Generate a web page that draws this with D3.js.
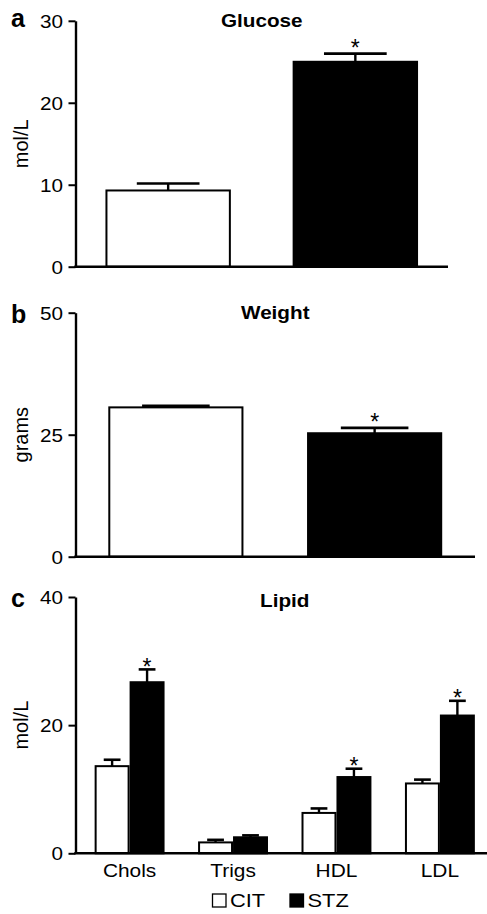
<!DOCTYPE html>
<html>
<head>
<meta charset="utf-8">
<script src="https://cdn.jsdelivr.net/npm/d3@7"></script>
<style>
  html, body { margin: 0; padding: 0; background: #fff; }
  svg { display: block; }
  text { font-family: "Liberation Sans", Arial, Helvetica, sans-serif; fill: #000; }
</style>
</head>
<body>
<svg id="chart" width="487" height="914"></svg>
<script>
// ---------------- DATA ----------------
const groups = ["CIT", "STZ"];

const glucoseMean = [9.3, 25.0];
const glucoseSem = [0.85, 1.0];
const glucoseSig = [false, true];
const glucoseTicks = [0, 10, 20, 30];

const weightMean = [30.6, 25.3];
const weightSem = [0.3, 1.1];
const weightSig = [false, true];
const weightTicks = [0, 25, 50];

const lipidCategories = ["Chols", "Trigs", "HDL", "LDL"];
const lipidCitMean = [13.6, 1.7, 6.3, 10.9];
const lipidCitSem = [1.0, 0.4, 0.7, 0.6];
const lipidStzMean = [26.7, 2.5, 11.9, 21.5];
const lipidStzSem = [2.0, 0.3, 1.3, 2.3];
const lipidCitSig = [false, false, false, false];
const lipidStzSig = [true, false, true, true];
const lipidTicks = [0, 20, 40];

const fills = ["#ffffff", "#000000"];

// ---------------- HELPERS ----------------
const svg = d3.select("#chart");
const SX = 1.15; // horizontal stretch of the reference's lettering

function sText(parent, x, y, str, size, weight, anchor, sx) {
  return parent.append("text")
    .attr("transform", `translate(${x},${y}) scale(${sx || SX},1)`)
    .attr("text-anchor", anchor || "middle")
    .attr("font-size", size)
    .attr("font-weight", weight || "normal")
    .text(str);
}

function yAxis(g, y, x0, ticks) {
  const ax = g.append("g").attr("transform", `translate(${x0},0)`)
    .call(d3.axisLeft(y).tickValues(ticks).tickSize(7).tickSizeOuter(0).tickFormat(d3.format("d")));
  ax.select(".domain").attr("stroke", "#000").attr("stroke-width", 2.4);
  ax.selectAll(".tick line").attr("stroke", "#000").attr("stroke-width", 2);
  ax.selectAll(".tick text")
    .attr("font-family", '"Liberation Sans", Arial, sans-serif')
    .attr("font-size", 18)
    .attr("fill", "#000")
    .attr("x", -12.5 / SX)
    .attr("dy", "0.35em")
    .attr("transform", `scale(${SX},1)`);
  return ax;
}

function yLabel(g, y, str) {
  const r = y.range();
  const cy = (r[0] + r[1]) / 2;
  g.append("text")
    .attr("transform", `translate(28,${cy}) rotate(-90)`)
    .attr("text-anchor", "middle")
    .attr("font-size", 20)
    .text(str);
}

function xLine(g, y, x0, x1) {
  g.append("line")
    .attr("x1", x0 - 1.2).attr("x2", x1)
    .attr("y1", y(0)).attr("y2", y(0))
    .attr("stroke", "#000").attr("stroke-width", 2.4);
}

function errBar(g, cx, w, y, mean, sem) {
  g.append("line").attr("x1", cx).attr("x2", cx)
    .attr("y1", y(mean)).attr("y2", y(mean + sem))
    .attr("stroke", "#000").attr("stroke-width", 2.4);
  g.append("line").attr("x1", cx - w / 2).attr("x2", cx + w / 2)
    .attr("y1", y(mean + sem)).attr("y2", y(mean + sem))
    .attr("stroke", "#000").attr("stroke-width", 2.6);
}

function star(g, cx, yTop, gap) {
  // asterisk glyph centred ~gap px above the error-bar cap
  g.append("text")
    .attr("x", cx).attr("y", yTop - gap + 13.5)
    .attr("text-anchor", "middle")
    .attr("font-size", 23)
    .attr("font-weight", "normal")
    .text("*");
}

// ---------------- PANEL A & B (two bars) ----------------
function twoBarPanel(opt) {
  const g = svg.append("g");
  const x = d3.scaleBand().domain(groups).range([opt.x0, opt.x1])
    .paddingInner(opt.pi).paddingOuter(opt.po);
  const y = d3.scaleLinear().domain([0, opt.max]).range([opt.yb, opt.yt]);

  groups.forEach((k, i) => {
    g.append("rect")
      .attr("x", x(k) + 1).attr("width", x.bandwidth() - 2)
      .attr("y", y(opt.mean[i])).attr("height", y(0) - y(opt.mean[i]))
      .attr("fill", fills[i]).attr("stroke", "#000").attr("stroke-width", 2);
    const cx = x(k) + x.bandwidth() / 2;
    errBar(g, cx, x.bandwidth() * 0.5, y, opt.mean[i], opt.sem[i]);
    if (opt.sig[i]) star(g, cx, y(opt.mean[i] + opt.sem[i]), opt.starGap);
  });

  xLine(g, y, opt.x0, opt.x1);
  yAxis(g, y, opt.x0, opt.ticks);
  yLabel(g, y, opt.ylabel);
  sText(g, (opt.x0 + opt.x1) / 2, y(opt.max) + 6.5, opt.title, 18, "bold");
  g.append("text").attr("x", 11).attr("y", y(opt.max) + opt.letterDy)
    .attr("font-size", 25).attr("font-weight", "bold").text(opt.letter);
}

twoBarPanel({
  x0: 75.5, x1: 448, yb: 266.7, yt: 20.8, max: 30, pi: 0.33, po: 0.16,
  mean: glucoseMean, sem: glucoseSem, sig: glucoseSig, ticks: glucoseTicks,
  ylabel: "mol/L", title: "Glucose", letter: "a", letterDy: 6.5, starGap: 11
});

twoBarPanel({
  x0: 75.5, x1: 475, yb: 556.7, yt: 312.7, max: 50, pi: 0.32, po: 0.165,
  mean: weightMean, sem: weightSem, sig: weightSig, ticks: weightTicks,
  ylabel: "grams", title: "Weight", letter: "b", letterDy: 10.5, starGap: 11
});

// ---------------- PANEL C (grouped) ----------------
(function () {
  const g = svg.append("g");
  const x0 = 75.5, x1 = 494;
  const x = d3.scaleBand().domain(lipidCategories).range([x0, x1])
    .paddingInner(0.324).paddingOuter(0.185);
  const xs = d3.scaleBand().domain(groups).range([0, x.bandwidth()]).padding(0);
  const y = d3.scaleLinear().domain([0, 40]).range([853.3, 597]);

  const means = [lipidCitMean, lipidStzMean];
  const sems = [lipidCitSem, lipidStzSem];
  const sigs = [lipidCitSig, lipidStzSig];

  lipidCategories.forEach((c, j) => {
    groups.forEach((k, i) => {
      const bx = x(c) + xs(k);
      g.append("rect")
        .attr("x", bx + 1).attr("width", xs.bandwidth() - 2)
        .attr("y", y(means[i][j])).attr("height", y(0) - y(means[i][j]))
        .attr("fill", fills[i]).attr("stroke", "#000").attr("stroke-width", 2);
      const cx = bx + xs.bandwidth() / 2;
      errBar(g, cx, xs.bandwidth() * 0.48, y, means[i][j], sems[i][j]);
      if (sigs[i][j]) star(g, cx, y(means[i][j] + sems[i][j]), 8);
    });
    sText(g, x(c) + x.bandwidth() / 2, 877.3, c, 18.5, "normal", "middle", 1.13);
  });

  xLine(g, y, x0, x1);
  yAxis(g, y, x0, lipidTicks);
  yLabel(g, y, "mol/L");
  sText(g, (x0 + x1) / 2, y(40) + 9.5, "Lipid", 18, "bold");
  g.append("text").attr("x", 11).attr("y", y(40) + 10.3)
    .attr("font-size", 25).attr("font-weight", "bold").text("c");

  // legend
  const leg = svg.append("g");
  const legX = [212.5, 290];
  groups.forEach((k, i) => {
    leg.append("rect").attr("x", legX[i]).attr("y", 894)
      .attr("width", 13.5).attr("height", 13)
      .attr("fill", fills[i]).attr("stroke", "#000").attr("stroke-width", 1.3);
    sText(leg, legX[i] + 17.5, 907.3, k, 19, "normal", "start", 1.15);
  });
})();
</script>
</body>
</html>
